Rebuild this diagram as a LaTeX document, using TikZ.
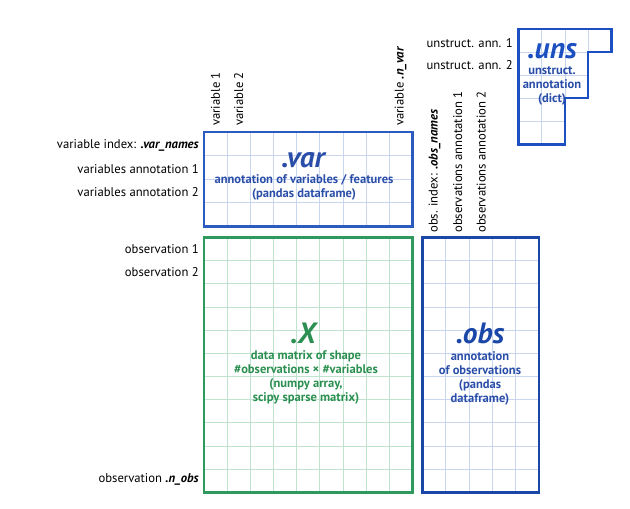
\documentclass[tikz,border=0pt]{standalone}
\usepackage{fontspec}
\setmainfont{PT Sans}
\usetikzlibrary{positioning}
\definecolor{varblue}{HTML}{2A5CC0}
\definecolor{obsblue}{HTML}{1A47A8}
\definecolor{unsblue}{HTML}{1C4FC0}
\definecolor{gridblue}{HTML}{C9D6F0}
\definecolor{xgreen}{HTML}{2E9A5E}
\definecolor{gridgreen}{HTML}{BFE3CE}
\definecolor{txtblue}{HTML}{2A4EA8}
\definecolor{txtgreen}{HTML}{2A8F50}

\begin{document}
\begin{tikzpicture}[x=0.75pt,y=-0.75pt,
  lbl/.style={font=\fontsize{9.5}{10}\selectfont, inner sep=0pt, text=black},
  rlbl/.style={lbl, rotate=90, anchor=west},
  title/.style={font=\fontsize{22}{22}\selectfont\bfseries\itshape, inner sep=0pt,
    text depth=0pt, anchor=base},
  desc/.style={font=\fontsize{9.4}{10.5}\selectfont\bfseries, inner sep=0pt, align=center},
  frame/.style={line width=1.6pt},
  cell/.style={line width=0.7pt}
]
\useasboundingbox (0,0) rectangle (630,508);

% grids
\foreach \i in {1,...,8} {
  \draw[cell, gridblue] ({204+\i*23.17},132) -- ({204+\i*23.17},226.5);
  \draw[cell, gridgreen] ({204+\i*23.17},237.5) -- ({204+\i*23.17},492.5);
}
\foreach \j in {1,...,3}
  \draw[cell, gridblue] (204,{132+\j*23.62}) -- (412.5,{132+\j*23.62});
\foreach \j in {1,...,10} {
  \draw[cell, gridgreen] (204,{237.5+\j*23.18}) -- (412.5,{237.5+\j*23.18});
  \draw[cell, gridblue] (422.5,{237.5+\j*23.18}) -- (539,{237.5+\j*23.18});
}
\foreach \i in {1,...,4}
  \draw[cell, gridblue] ({422.5+\i*23.3},237.5) -- ({422.5+\i*23.3},492.5);
\begin{scope}
  \clip (518.5,29) -- (611.5,29) -- (611.5,52.1) -- (588.25,52.1) -- (588.25,98.3)
    -- (565,98.3) -- (565,144.5) -- (518.5,144.5) -- cycle;
  \foreach \i in {1,...,3}
    \draw[cell, gridblue] ({518.5+\i*23.25},29) -- ({518.5+\i*23.25},144.5);
  \foreach \j in {1,...,4}
    \draw[cell, gridblue] (518.5,{29+\j*23.1}) -- (611.5,{29+\j*23.1});
\end{scope}

% frames
\draw[frame, varblue] (204,132) rectangle (412.5,226.5);
\draw[frame, xgreen] (204,237.5) rectangle (412.5,492.5);
\draw[frame, obsblue] (422.5,237.5) rectangle (539,492.5);
\draw[frame, unsblue] (518.5,29) -- (611.5,29) -- (611.5,52.1) -- (588.25,52.1) -- (588.25,98.3)
  -- (565,98.3) -- (565,144.5) -- (518.5,144.5) -- cycle;

% box texts
\node[title, text=txtblue] (vart) at (303,167) {.var};
\node[desc, text=txtblue] (vard) at (304,187.5) {annotation of variables / features\\(pandas dataframe)};
\node[title, text=txtgreen] (xt) at (303,343) {.X};
\node[desc, text=txtgreen] (xd) at (306,377.5) {data matrix of shape\\\#observations × \#variables\\(numpy array,\\scipy sparse matrix)};
\node[title, text=obsblue] (obst) at (480,343) {.obs};
\node[desc, text=txtblue] (obsd) at (480,378) {annotation\\of observations\\(pandas\\dataframe)};
\node[title, text=unsblue] (unst) at (552,58) {.uns};
\node[desc, text=txtblue] (unsd) at (552,86) {unstruct.\\annotation\\(dict)};

% row labels
\node[lbl, anchor=east] (varidx) at (199,145) {variable index: \textbf{\textit{.var\_names}}};
\node[lbl, anchor=east] (varann1) at (199,169) {variables annotation 1};
\node[lbl, anchor=east] (varann2) at (199,192.5) {variables annotation 2};
\node[lbl, anchor=east] (obs1) at (199,249) {observation 1};
\node[lbl, anchor=east] (obs2) at (199,272) {observation 2};
\node[lbl, anchor=east] (obsn) at (199,479) {observation \textbf{\textit{.n\_obs}}};
\node[lbl, anchor=east] (uns1) at (513,43) {unstruct. ann. 1};
\node[lbl, anchor=east] (uns2) at (513,65) {unstruct. ann. 2};

% column labels
\node[rlbl] (var1) at (215.5,126) {variable 1};
\node[rlbl] (var2) at (238.7,126) {variable 2};
\node[rlbl] (varn) at (400.5,126) {variable \textbf{\textit{.n\_var}}};
\node[rlbl] (obsidx) at (434.5,233) {obs. index: \textbf{\textit{.obs\_names}}};
\node[rlbl] (obsann1) at (457.8,233) {observations annotation 1};
\node[rlbl] (obsann2) at (481.2,233) {observations annotation 2};
\end{tikzpicture}
\end{document}
